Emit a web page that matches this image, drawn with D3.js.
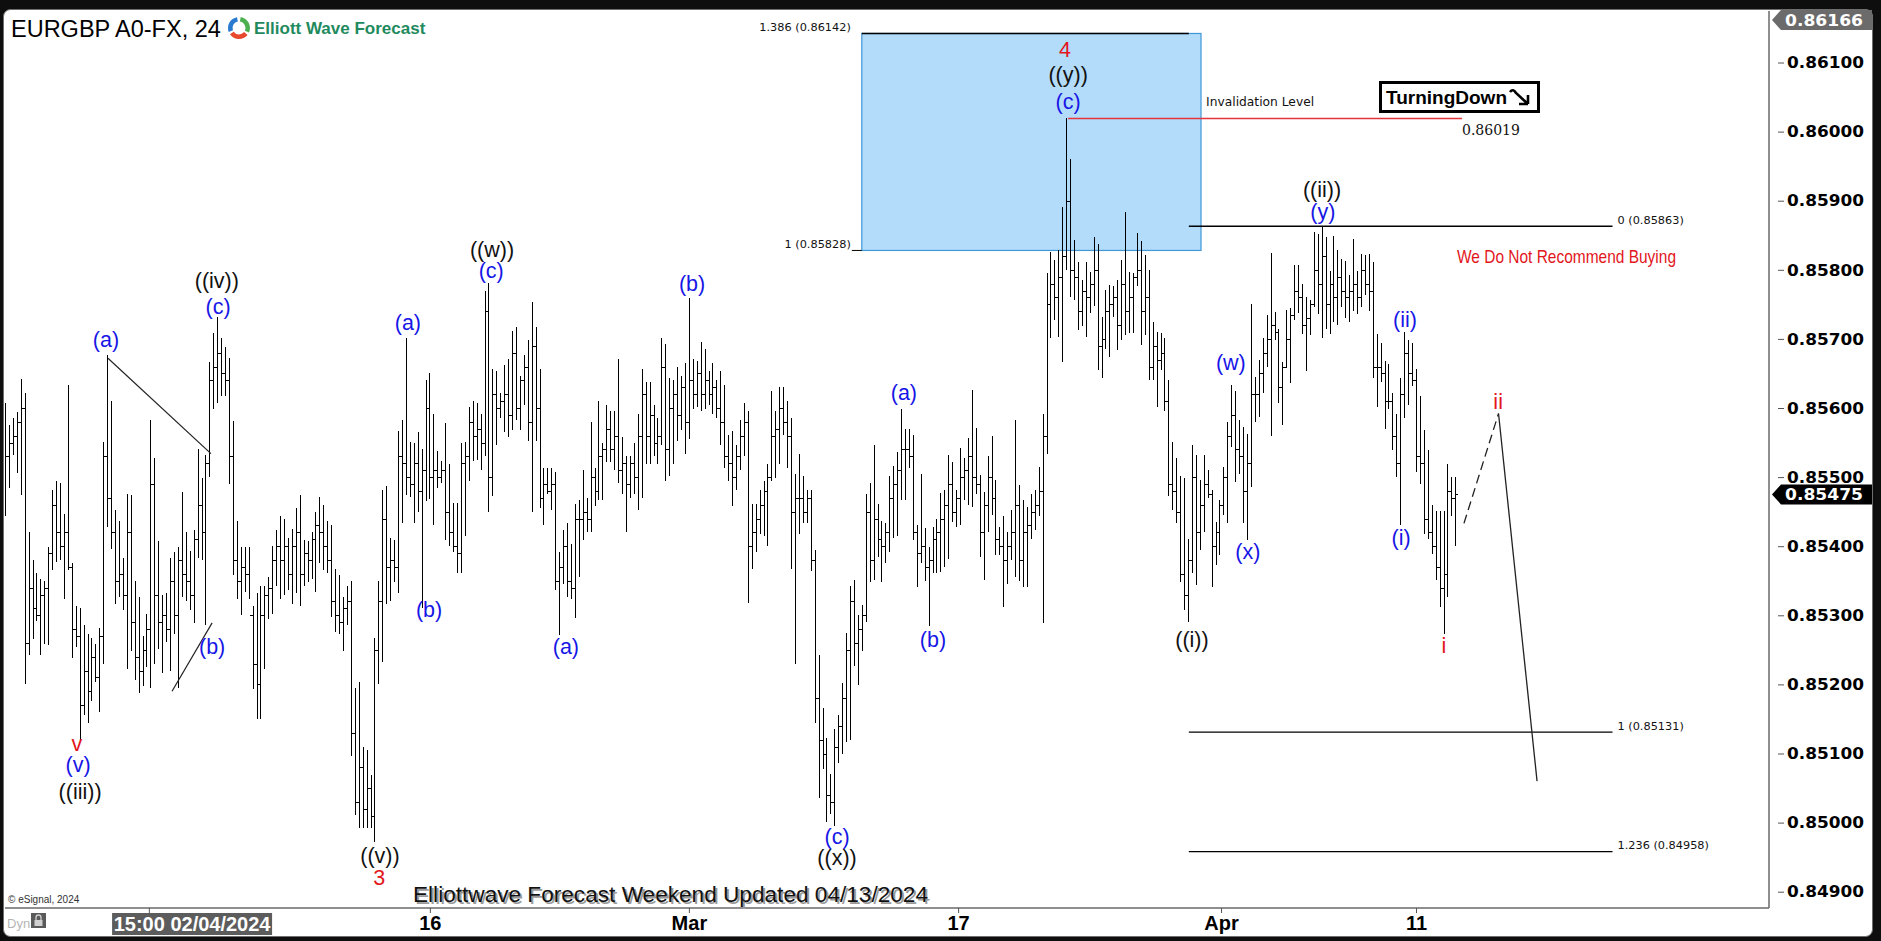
<!DOCTYPE html>
<html><head><meta charset="utf-8">
<script src="https://cdn.jsdelivr.net/npm/d3@7"></script>
<style>html,body{margin:0;padding:0;background:#0e0e0e;overflow:hidden}</style>
</head><body>
<svg id="c" width="1881" height="941"></svg>
<script>
// ---- DATA (EURGBP 4H bars) ----
const highs=[
.85607,.85575,.85586,.85594,.85642,.85621,.85420,.85380,.85361,.85353,
.85350,.85399,.85482,.85495,.85492,.85447,.85634,.85375,.85313,.85310,
.85286,.85273,.85267,.85259,.85281,.85551,.85677,.85610,.85452,.85436,
.85383,.85476,.85474,.85350,.85326,.85270,.85302,.85583,.85527,.85407,
.85329,.85332,.85383,.85391,.85399,.85479,.85420,.85393,.85423,.85541,
.85498,.85532,.85666,.85709,.85731,.85701,.85688,.85672,.85581,.85436,
.85399,.85399,.85399,.85313,.85332,.85342,.85342,.85356,.85401,.85423,
.85444,.85439,.85412,.85425,.85455,.85474,.85409,.85407,.85420,.85450,
.85471,.85460,.85436,.85431,.85367,.85358,.85326,.85342,.85350,.85195,
.85203,.85110,.85105,.85069,.85267,.85350,.85482,.85487,.85412,.85409,
.85567,.85583,.85701,.85551,.85549,.85565,.85541,.85640,.85650,.85591,
.85538,.85524,.85578,.85519,.85463,.85463,.85549,.85551,.85602,.85610,
.85607,.85592,.85770,.85781,.85656,.85653,.85622,.85662,.85671,.85711,
.85717,.85647,.85677,.85698,.85753,.85717,.85656,.85513,.85513,.85513,
.85507,.85391,.85424,.85434,.85403,.85461,.85467,.85510,.85470,.85580,
.85513,.85610,.85549,.85604,.85595,.85595,.85671,.85558,.85531,.85531,
.85549,.85592,.85656,.85638,.85638,.85604,.85586,.85702,.85692,.85644,
.85641,.85659,.85647,.85665,.85759,.85671,.85668,.85695,.85686,.85653,
.85665,.85641,.85653,.85634,.85561,.85567,.85546,.85583,.85607,.85595,
.85461,.85461,.85482,.85494,.85519,.85625,.85595,.85631,.85631,.85610,
.85586,.85504,.85534,.85501,.85482,.85482,.85394,.85242,.85166,.85123,
.85071,.85135,.85156,.85202,.85275,.85342,.85351,.85300,.85315,.85476,
.85491,.85546,.85461,.85437,.85434,.85501,.85516,.85537,.85598,.85570,
.85570,.85561,.85431,.85505,.85426,.85399,.85428,.85440,.85477,.85481,
.85532,.85522,.85481,.85542,.85527,.85556,.85626,.85571,.85503,.85479,
.85530,.85559,.85496,.85428,.85443,.85421,.85452,.85583,.85488,.85467,
.85457,.85476,.85481,.85515,.85592,.85795,.85826,.85814,.85829,.85891,
.86019,.85961,.85843,.85812,.85785,.85812,.85797,.85848,.85838,.85732,
.85771,.85778,.85776,.85785,.85814,.85884,.85797,.85795,.85853,.85841,
.85821,.85800,.85725,.85710,.85708,.85701,.85640,.85551,.85527,.85501,
.85498,.85411,.85546,.85532,.85496,.85532,.85510,.85481,.85435,.85467,
.85515,.85580,.85633,.85624,.85583,.85573,.85563,.85751,.85645,.85669,
.85701,.85734,.85824,.85739,.85715,.85667,.85742,.85744,.85807,.85807,
.85780,.85761,.85756,.85854,.85852,.85862,.85847,.85798,.85849,.85829,
.85816,.85813,.85792,.85844,.85798,.85823,.85821,.85823,.85811,.85707,
.85694,.85668,.85663,.85622,.85591,.85643,.85710,.85699,.85694,.85656,
.85617,.85568,.85539,.85459,.85451,.85451,.85451,.85519,.85500,.85500];
const lows=[
.85444,.85484,.85532,.85506,.85474,.85201,.85243,.85265,.85292,.85243,
.85259,.85257,.85366,.85377,.85380,.85324,.85366,.85238,.85254,.85120,
.85155,.85144,.85176,.85203,.85160,.85230,.85428,.85396,.85316,.85326,
.85308,.85222,.85249,.85206,.85187,.85198,.85225,.85195,.85230,.85251,
.85217,.85262,.85219,.85273,.85195,.85326,.85321,.85308,.85289,.85383,
.85380,.85286,.85500,.85599,.85607,.85618,.85618,.85490,.85358,.85324,
.85300,.85334,.85324,.85193,.85150,.85150,.85222,.85294,.85302,.85342,
.85324,.85329,.85337,.85316,.85332,.85313,.85342,.85348,.85353,.85334,
.85375,.85366,.85361,.85297,.85276,.85273,.85249,.85286,.85096,.85011,
.84992,.84992,.84992,.84992,.84972,.85201,.85233,.85316,.85321,.85348,
.85332,.85433,.85474,.85471,.85433,.85449,.85310,.85466,.85468,.85431,
.85484,.85492,.85409,.85401,.85391,.85361,.85361,.85415,.85495,.85524,
.85525,.85510,.85531,.85449,.85473,.85546,.85586,.85565,.85558,.85568,
.85583,.85568,.85604,.85552,.85449,.85552,.85455,.85431,.85476,.85452,
.85336,.85272,.85345,.85327,.85324,.85296,.85356,.85409,.85421,.85421,
.85458,.85467,.85467,.85522,.85522,.85510,.85491,.85476,.85421,.85470,
.85476,.85452,.85470,.85519,.85519,.85531,.85519,.85546,.85494,.85501,
.85519,.85552,.85568,.85534,.85555,.85598,.85601,.85595,.85598,.85604,
.85592,.85586,.85546,.85513,.85494,.85458,.85482,.85510,.85531,.85318,
.85367,.85391,.85418,.85415,.85400,.85494,.85498,.85519,.85561,.85513,
.85367,.85230,.85418,.85434,.85434,.85364,.85144,.85036,.85077,.85001,
.85013,.84995,.85086,.85099,.85117,.85120,.85226,.85199,.85248,.85290,
.85348,.85351,.85385,.85348,.85376,.85391,.85412,.85415,.85467,.85467,
.85513,.85409,.85341,.85375,.85349,.85284,.85361,.85361,.85363,.85370,
.85382,.85435,.85428,.85431,.85467,.85460,.85457,.85476,.85385,.85351,
.85421,.85445,.85387,.85387,.85312,.85346,.85380,.85356,.85349,.85341,
.85341,.85411,.85423,.85443,.85289,.85534,.85701,.85727,.85703,.85667,
.85800,.85761,.85756,.85713,.85718,.85703,.85737,.85747,.85655,.85643,
.85686,.85674,.85732,.85684,.85698,.85706,.85708,.85708,.85776,.85691,
.85706,.85640,.85640,.85602,.85655,.85595,.85472,.85452,.85433,.85348,
.85308,.85291,.85361,.85344,.85394,.85421,.85470,.85341,.85373,.85387,
.85445,.85433,.85544,.85493,.85505,.85433,.85409,.85486,.85580,.85587,
.85621,.85659,.85559,.85698,.85607,.85575,.85660,.85636,.85727,.85737,
.85707,.85653,.85705,.85746,.85736,.85702,.85715,.85707,.85725,.85720,
.85746,.85730,.85725,.85741,.85736,.85746,.85764,.85741,.85643,.85601,
.85637,.85570,.85599,.85539,.85500,.85431,.85586,.85604,.85632,.85508,
.85490,.85418,.85410,.85389,.85351,.85312,.85273,.85327,.85444,.85400];
const closes=[
.85530,.85550,.85560,.85580,.85600,.85260,.85340,.85310,.85300,.85330,
.85340,.85390,.85460,.85420,.85400,.85420,.85370,.85280,.85270,.85170,
.85220,.85190,.85240,.85210,.85270,.85530,.85470,.85420,.85350,.85360,
.85330,.85420,.85290,.85240,.85220,.85250,.85280,.85490,.85330,.85290,
.85300,.85280,.85350,.85300,.85380,.85360,.85350,.85330,.85410,.85460,
.85420,.85520,.85640,.85660,.85680,.85650,.85640,.85530,.85380,.85350,
.85370,.85360,.85300,.85230,.85200,.85300,.85330,.85340,.85380,.85400,
.85380,.85400,.85360,.85400,.85420,.85360,.85390,.85380,.85410,.85430,
.85420,.85400,.85380,.85320,.85300,.85290,.85310,.85320,.85130,.85030,
.85080,.85020,.85050,.85010,.85250,.85320,.85440,.85370,.85380,.85370,
.85530,.85520,.85500,.85490,.85520,.85480,.85510,.85600,.85500,.85510,
.85500,.85510,.85450,.85420,.85400,.85390,.85520,.85530,.85580,.85560,
.85570,.85550,.85740,.85500,.85620,.85600,.85610,.85620,.85590,.85680,
.85600,.85640,.85660,.85580,.85690,.85600,.85470,.85490,.85480,.85490,
.85350,.85370,.85400,.85350,.85340,.85440,.85440,.85450,.85440,.85500,
.85480,.85530,.85540,.85570,.85540,.85560,.85510,.85520,.85490,.85520,
.85500,.85560,.85620,.85560,.85590,.85550,.85560,.85660,.85540,.85600,
.85620,.85590,.85630,.85580,.85640,.85620,.85650,.85620,.85640,.85620,
.85630,.85600,.85580,.85530,.85520,.85500,.85530,.85560,.85580,.85400,
.85420,.85440,.85460,.85480,.85500,.85560,.85570,.85600,.85580,.85560,
.85450,.85470,.85470,.85450,.85470,.85380,.85180,.85120,.85100,.85040,
.85030,.85110,.85140,.85180,.85250,.85320,.85260,.85280,.85300,.85450,
.85380,.85440,.85410,.85400,.85420,.85470,.85490,.85510,.85540,.85540,
.85530,.85420,.85390,.85400,.85370,.85380,.85410,.85420,.85440,.85460,
.85490,.85450,.85470,.85500,.85510,.85530,.85500,.85490,.85420,.85460,
.85500,.85470,.85410,.85400,.85380,.85400,.85420,.85460,.85380,.85420,
.85430,.85450,.85460,.85480,.85560,.85750,.85780,.85760,.85790,.85820,
.85900,.85800,.85790,.85740,.85770,.85760,.85780,.85800,.85690,.85700,
.85740,.85750,.85760,.85720,.85780,.85740,.85760,.85790,.85800,.85740,
.85760,.85660,.85690,.85670,.85680,.85610,.85490,.85480,.85450,.85360,
.85330,.85380,.85500,.85420,.85460,.85490,.85475,.85400,.85420,.85460,
.85500,.85560,.85590,.85540,.85530,.85480,.85520,.85620,.85620,.85650,
.85680,.85700,.85720,.85710,.85630,.85660,.85700,.85735,.85770,.85760,
.85720,.85730,.85750,.85800,.85780,.85820,.85750,.85780,.85760,.85790,
.85770,.85760,.85770,.85780,.85760,.85800,.85780,.85770,.85660,.85660,
.85650,.85610,.85610,.85560,.85520,.85620,.85680,.85650,.85640,.85530,
.85520,.85440,.85420,.85400,.85370,.85340,.85360,.85480,.85470,.85475];
const firstOpen=0.85560;

const priceTicks=[0.861,0.860,0.859,0.858,0.857,0.856,0.855,0.854,0.853,0.852,0.851,0.850,0.849];
const timeTickIdx=[36.6,108.1,174.0,242.5,309.4,359.0];
const timeTickLabels=["","16","Mar","17","Apr","11"];
const cursorIdx=47.6, cursorLabel="15:00 02/04/2024";
const topPrice=0.86166;
const lastPrice=0.85475;

const waveText =["v","(v)","((iii))","(a)","(b)","(c)","((iv))","(a)","(b)","((v))","3","(c)","((w))","(a)","(b)","(c)","((x))","(a)","(b)","4","((y))","(c)","((i))","(w)","(x)","((ii))","(y)","(ii)","(i)","i","ii"];
const waveIdx  =[18.3,18.6,19.1,25.7,52.7,54.2,53.9,102.5,107.9,95.4,95.2,123.7,123.9,142.7,174.8,211.7,211.7,228.7,236.1,269.7,270.5,270.5,302.0,311.9,316.2,335.1,335.3,356.2,355.2,366.1,379.9];
const wavePrice=[.85114,.85083,.85044,.85698,.85254,.85746,.85784,.85723,.85308,.84952,.84920,.85798,.85829,.85254,.85779,.84979,.84949,.85622,.85264,.86118,.86082,.86043,.85264,.85665,.85392,.85916,.85884,.85727,.85412,.85256,.85609];
const waveDegree=["r","b","k","b","b","b","k","b","b","k","r","b","k","b","b","b","k","b","b","r","k","b","k","b","b","k","b","b","b","r","r"];

const triLineIdx=[[26.2,52.4],[42.5,52.7]];
const triLinePrice=[[.85672,.85534],[.85190,.85289]];

const fibBoxIdx=[218,304.3];
const fibLeftRatios=["1.386","1"], fibLeftPrices=[0.86142,0.85828], fibLeftEnd=301.2;
const fibRightRatios=["0","1","1.236"], fibRightPrices=[0.85863,0.85131,0.84958], fibRightIdx=[301.2,409];
const invalidPrice=0.86019, invalidIdx=[270.5,370.7];
const projIdx=[371.2,380.0,389.8], projPrice=[0.85433,0.85592,0.8506];

// ---- DRAW ----
const svg=d3.select("#c");
const SANS='"Liberation Sans", Arial, Helvetica, sans-serif';
const VER='"DejaVu Sans", Verdana, sans-serif';
const colors={r:"#e3161c",b:"#1616e6",k:"#111"};
const x=d3.scaleLinear().domain([0,highs.length-1]).range([5,1455.3]);
const y=d3.scaleLinear().domain([0.849,0.861]).range([891.7,62.5]);
const PL=5,PR=1769,PT=11,PB=908;

svg.append("rect").attr("width",1881).attr("height",941).attr("fill","#0e0e0e");
svg.append("rect").attr("x",3.5).attr("y",9.5).attr("width",1869).attr("height",927).attr("rx",7)
  .attr("fill","#fff").attr("stroke","#6e6e6e");

svg.append("defs").append("clipPath").attr("id","pc").append("rect")
  .attr("x",PL).attr("y",PT).attr("width",PR-PL).attr("height",PB-PT);
const plot=svg.append("g").attr("clip-path","url(#pc)");

// Fib box
plot.append("rect").attr("x",x(fibBoxIdx[0])).attr("y",y(fibLeftPrices[0]))
  .attr("width",x(fibBoxIdx[1])-x(fibBoxIdx[0])).attr("height",y(fibLeftPrices[1])-y(fibLeftPrices[0]))
  .attr("fill","#b3dcfa").attr("stroke","#3f97d8").attr("stroke-width",1.2);
plot.append("line").attr("x1",x(fibBoxIdx[0])).attr("x2",x(fibLeftEnd))
  .attr("y1",y(fibLeftPrices[0])).attr("y2",y(fibLeftPrices[0])).attr("stroke","#000").attr("stroke-width",1.3);
plot.append("line").attr("x1",x(fibBoxIdx[0])-10).attr("x2",x(fibBoxIdx[0]))
  .attr("y1",y(fibLeftPrices[1])).attr("y2",y(fibLeftPrices[1])).attr("stroke","#000").attr("stroke-width",1);
fibLeftRatios.forEach((r,k)=>{
  plot.append("text").attr("x",x(fibBoxIdx[0])-11).attr("y",y(fibLeftPrices[k])-2.5)
    .attr("text-anchor","end").attr("font-family",VER).attr("font-size",11.3).attr("fill","#111")
    .text(`${r} (${fibLeftPrices[k].toFixed(5)})`);
});
fibRightRatios.forEach((r,k)=>{
  const yy=y(fibRightPrices[k]);
  plot.append("line").attr("x1",x(fibRightIdx[0])).attr("x2",x(fibRightIdx[1]))
    .attr("y1",yy).attr("y2",yy).attr("stroke","#000").attr("stroke-width",1.3);
  plot.append("text").attr("x",x(fibRightIdx[1])+5).attr("y",yy-2.5)
    .attr("font-family",VER).attr("font-size",11.3).attr("fill","#111")
    .text(`${r} (${fibRightPrices[k].toFixed(5)})`);
});

// invalidation
plot.append("line").attr("x1",x(invalidIdx[0])).attr("x2",x(invalidIdx[1]))
  .attr("y1",y(invalidPrice)).attr("y2",y(invalidPrice)).attr("stroke","#e4343c").attr("stroke-width",1.5);
plot.append("text").attr("x",x(305.6)).attr("y",y(invalidPrice)-12)
  .attr("font-family",VER).attr("font-size",12.2).attr("textLength",108).attr("lengthAdjust","spacingAndGlyphs")
  .attr("fill","#111").text("Invalidation Level");
plot.append("text").attr("x",x(invalidIdx[1])).attr("y",y(invalidPrice)+17)
  .attr("font-family",'"DejaVu Serif", Georgia, serif').attr("font-size",14).attr("fill","#111")
  .attr("textLength",58).attr("lengthAdjust","spacingAndGlyphs").text(invalidPrice.toFixed(5));

// bars
const bars=plot.append("g").attr("stroke","#000").attr("stroke-width",1).attr("shape-rendering","crispEdges");
highs.forEach((h,i)=>{
  const xx=Math.round(x(i))+0.5;
  const o=i===0?firstOpen:closes[i-1];
  bars.append("line").attr("x1",xx).attr("x2",xx).attr("y1",y(h)).attr("y2",y(lows[i]));
  bars.append("line").attr("x1",xx-2).attr("x2",xx).attr("y1",Math.round(y(o))+0.5).attr("y2",Math.round(y(o))+0.5);
  bars.append("line").attr("x1",xx).attr("x2",xx+2).attr("y1",Math.round(y(closes[i]))+0.5).attr("y2",Math.round(y(closes[i]))+0.5);
});

// triangle lines
triLineIdx.forEach((ix,k)=>{
  plot.append("line").attr("x1",x(ix[0])).attr("x2",x(ix[1]))
    .attr("y1",y(triLinePrice[k][0])).attr("y2",y(triLinePrice[k][1])).attr("stroke","#222").attr("stroke-width",1.2);
});

// projection
plot.append("line").attr("x1",x(projIdx[0])).attr("y1",y(projPrice[0])).attr("x2",x(projIdx[1])).attr("y2",y(projPrice[1]))
  .attr("stroke","#222").attr("stroke-width",1.3).attr("stroke-dasharray","9,5");
plot.append("line").attr("x1",x(projIdx[1])).attr("y1",y(projPrice[1])).attr("x2",x(projIdx[2])).attr("y2",y(projPrice[2]))
  .attr("stroke","#222").attr("stroke-width",1.3);

// wave labels
waveText.forEach((t,k)=>{
  plot.append("text").attr("x",x(waveIdx[k])).attr("y",y(wavePrice[k]))
    .attr("text-anchor","middle").attr("dominant-baseline","central")
    .attr("font-family",SANS).attr("font-size",21.5).attr("fill",colors[waveDegree[k]]).text(t);
});

// Turning Down box
const td=svg.append("g");
td.append("rect").attr("x",1380.5).attr("y",82.5).attr("width",158).attr("height",29)
  .attr("fill","#fff").attr("stroke","#000").attr("stroke-width",3);
td.append("text").attr("x",1386).attr("y",104).attr("font-family",SANS).attr("font-weight","bold")
  .attr("font-size",19).attr("textLength",121).attr("lengthAdjust","spacingAndGlyphs").attr("fill","#000").text("TurningDown");
td.append("path").attr("d","M1510,92 Q1513,88 1516,93 L1528,104 M1528,104 L1519,104 M1528,104 L1528,95")
  .attr("fill","none").attr("stroke","#000").attr("stroke-width",2.6);

svg.append("text").attr("x",1457).attr("y",263).attr("font-family",SANS).attr("font-size",19)
  .attr("textLength",219).attr("lengthAdjust","spacingAndGlyphs").attr("fill","#e3161c").text("We Do Not Recommend Buying");

// axes frame lines
svg.append("line").attr("x1",PR).attr("x2",PR).attr("y1",PT).attr("y2",PB).attr("stroke","#6a6a6a").attr("stroke-width",1.5);
svg.append("line").attr("x1",PL).attr("x2",PR).attr("y1",PB).attr("y2",PB).attr("stroke","#6a6a6a").attr("stroke-width",1.5);

// price axis
const AXF='"DejaVu Sans", Verdana, sans-serif';
const ya=svg.append("g").attr("transform",`translate(${PR},0)`)
  .call(d3.axisRight(y).tickValues(priceTicks).tickSize(5).tickPadding(13).tickFormat(d3.format(".5f")));
ya.select(".domain").remove();
ya.selectAll("line").attr("stroke","#555").attr("x1",9).attr("x2",15);
ya.selectAll("text").attr("font-family",AXF).attr("font-weight","bold").attr("font-size",16.5)
  .attr("textLength",77).attr("lengthAdjust","spacingAndGlyphs").attr("fill","#000");

function priceBox(p,fill){
  const yy=Math.max(y(p),20);
  svg.append("path").attr("d",`M${PR+3},${yy} L${PR+12},${yy-10} L1872,${yy-10} L1872,${yy+10} L${PR+12},${yy+10} Z`).attr("fill",fill);
  svg.append("text").attr("x",PR+16).attr("y",yy).attr("dominant-baseline","central")
    .attr("font-family",AXF).attr("font-weight","bold").attr("font-size",16.5)
    .attr("textLength",78).attr("lengthAdjust","spacingAndGlyphs").attr("fill","#fff").text(p.toFixed(5));
}
priceBox(topPrice,"#6b6b6b");
priceBox(lastPrice,"#000");

// time axis
const xa=svg.append("g").attr("transform",`translate(0,${PB})`)
  .call(d3.axisBottom(x).tickValues(timeTickIdx).tickSize(5).tickPadding(3).tickFormat((d,i)=>timeTickLabels[i]));
xa.select(".domain").remove();
xa.selectAll("line").attr("stroke","#555");
xa.selectAll("text").attr("font-family",SANS).attr("font-weight","bold").attr("font-size",20).attr("fill","#000");
const cx=x(cursorIdx);
svg.append("rect").attr("x",cx-80).attr("y",913).attr("width",160).attr("height",22).attr("fill","#5c5c5c");
svg.append("text").attr("x",cx).attr("y",931).attr("text-anchor","middle").attr("font-family",SANS)
  .attr("font-weight","bold").attr("font-size",20).attr("fill","#fff").text(cursorLabel);

// Dyn + lock
svg.append("text").attr("x",7).attr("y",928).attr("font-family",SANS).attr("font-size",13).attr("fill","#b5b5b5").text("Dyn");
svg.append("rect").attr("x",31).attr("y",913).attr("width",15).attr("height",15).attr("fill","#5a5a5a");
svg.append("rect").attr("x",34.5).attr("y",920).attr("width",8).attr("height",6).attr("fill","#d0d0d0");
svg.append("path").attr("d","M36,920 v-2.5 a2.5,2.5 0 0 1 5,0 v2.5").attr("fill","none").attr("stroke","#d0d0d0").attr("stroke-width",1.3);
svg.append("text").attr("x",8).attr("y",903).attr("font-family",SANS).attr("font-size",10).attr("fill","#333").text("© eSignal, 2024");

// footer
const foot="Elliottwave Forecast Weekend Updated 04/13/2024";
svg.append("text").attr("x",415).attr("y",904).attr("font-family",SANS).attr("font-size",22)
  .attr("textLength",515).attr("lengthAdjust","spacingAndGlyphs").attr("fill","#9a9a9a").text(foot);
svg.append("text").attr("x",413).attr("y",902).attr("font-family",SANS).attr("font-size",22)
  .attr("textLength",515).attr("lengthAdjust","spacingAndGlyphs").attr("fill","#111").text(foot);

// title + logo
svg.append("text").attr("x",11).attr("y",37).attr("font-family",SANS).attr("font-size",23.5).attr("fill","#000").text("EURGBP A0-FX, 240");
svg.append("rect").attr("x",221).attr("y",13).attr("width",215).attr("height",28).attr("fill","#fff");
const arc=d3.arc().innerRadius(6.5).outerRadius(11);
const lg=svg.append("g").attr("transform","translate(239,28)");
[[0.15,2.0,"#4cb050"],[2.25,4.1,"#e8482c"],[4.35,6.1,"#2a7bd0"]].forEach(a=>{
  lg.append("path").attr("d",arc({startAngle:a[0],endAngle:a[1]})).attr("fill",a[2]);
});
svg.append("text").attr("x",254).attr("y",34).attr("font-family",SANS).attr("font-weight","bold")
  .attr("font-size",17).attr("fill","#1f8a5e").text("Elliott Wave Forecast");
</script>
</body></html>
